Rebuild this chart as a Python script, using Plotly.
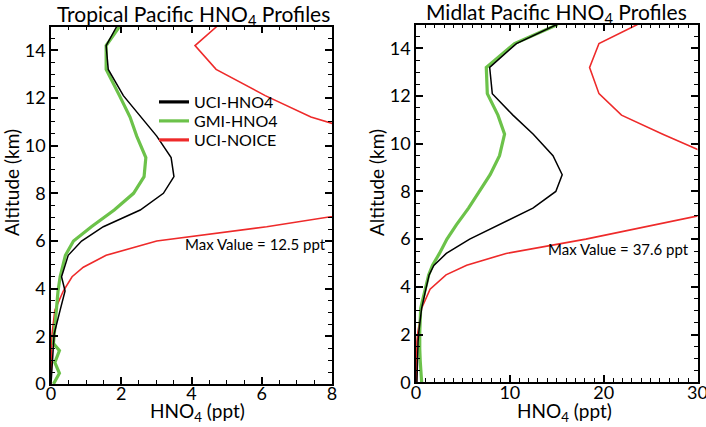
"""Tropical vs midlatitude Pacific HNO4 vertical profiles."""

import plotly.graph_objects as go

# Altitude levels (km) shared by all profiles
altitude = [0, 0.45, 0.9, 1.4, 1.7, 2.1, 3.1, 3.9, 4.5, 4.9, 5.4, 6.0,
            6.6, 7.3, 8.0, 8.7, 9.5, 10.4, 11.2, 12.1, 13.2, 14.2, 15.0]

# Tropical Pacific (ppt)
trop_uci = [0.0, 0.02, 0.03, 0.05, 0.06, 0.09, 0.26, 0.40, 0.30, 0.38, 0.49, 0.87,
            1.49, 2.54, 3.20, 3.50, 3.42, 3.01, 2.55, 2.06, 1.63, 1.57, 1.87]
trop_gmi = [0.07, 0.24, 0.11, 0.24, 0.07, 0.09, 0.16, 0.20, 0.26, 0.32, 0.41, 0.64,
            1.15, 1.80, 2.35, 2.65, 2.70, 2.44, 2.25, 1.95, 1.57, 1.57, 1.95]
trop_noice = [0.0, 0.0, 0.01, 0.01, 0.02, 0.03, 0.11, 0.35, 0.60, 0.92, 1.57, 3.01,
              6.14, 9.2, 11.5, 12.5, 12.0, 9.2, 7.4, 6.1, 4.7, 4.1, 4.72]

# Midlatitude Pacific (ppt)
mid_uci = [0.1, 0.12, 0.15, 0.2, 0.22, 0.3, 0.6, 1.05, 1.4, 1.9, 3.23, 5.72,
           8.9, 12.46, 14.9, 15.58, 14.6, 12.5, 10.33, 8.13, 7.85, 10.7, 15.0]
mid_gmi = [0.6, 0.5, 0.45, 0.4, 0.4, 0.4, 0.5, 0.95, 1.35, 1.75, 2.5, 3.3,
           4.3, 5.6, 6.8, 7.9, 8.9, 9.44, 8.73, 7.6, 7.49, 10.5, 15.1]
mid_noice = [0.05, 0.05, 0.06, 0.08, 0.1, 0.2, 0.6, 1.5, 3.2, 5.4, 9.6, 18.1,
             25.6, 34.0, 36.0, 37.6, 31.5, 26.3, 21.9, 19.5, 18.5, 19.5, 23.6]

series_names = ["UCI-HNO4", "GMI-HNO4", "UCI-NOICE"]
max_values = [12.5, 37.6]

BLACK = "#000000"
GREEN = "#6cc24a"
RED = "#ee2a2a"
FONT = "Lato, Open Sans, sans-serif"
W, H = 706, 427


def px(x):
    return x / W


def py(y):
    return 1 - y / H


fig = go.Figure()

panels = [
    ("x", "y", trop_uci, trop_gmi, trop_noice),
    ("x2", "y2", mid_uci, mid_gmi, mid_noice),
]
for xa, ya, uci, gmi, noice in panels:
    fig.add_trace(go.Scatter(x=noice, y=altitude, mode="lines", xaxis=xa, yaxis=ya,
                             line=dict(color=RED, width=1.6), showlegend=False))
    fig.add_trace(go.Scatter(x=gmi, y=altitude, mode="lines", xaxis=xa, yaxis=ya,
                             line=dict(color=GREEN, width=3.2), showlegend=False))
    fig.add_trace(go.Scatter(x=uci, y=altitude, mode="lines", xaxis=xa, yaxis=ya,
                             line=dict(color=BLACK, width=1.5), showlegend=False))

# legend entries, one small legend each so the spacing can be tight
legend_ids = ["legend", "legend2", "legend3"]
for name, color, lid in zip(series_names, [BLACK, GREEN, RED], legend_ids):
    fig.add_trace(go.Scatter(x=[None], y=[None], mode="lines", name=name, legend=lid,
                             line=dict(color=color, width=3.2)))

legend_style = dict(x=px(154), xanchor="left", yanchor="middle",
                    bgcolor="rgba(0,0,0,0)", borderwidth=0,
                    font=dict(family=FONT, size=16, color="black"))

axis_common = dict(
    showline=True, linecolor="black", linewidth=1.5, mirror="ticks",
    ticks="inside", ticklen=7, tickwidth=1.5, tickcolor="black",
    showgrid=False, zeroline=False, automargin=False, ticklabeloverflow="allow",
    tickfont=dict(family=FONT, size=18, color="black"),
)
minor_y = dict(dtick=0.5, ticks="inside", ticklen=4, tickwidth=1.2, tickcolor="black")

fig.update_layout(
    width=W, height=H,
    margin=dict(l=0, r=0, t=0, b=0, autoexpand=False),
    paper_bgcolor="white", plot_bgcolor="white",
    font=dict(family=FONT, color="black"),
    xaxis=dict(axis_common, domain=[px(51), px(332)], range=[0, 8], dtick=2, anchor="y",
               ticklabelstandoff=-7,
               minor=dict(dtick=0.5, ticks="inside", ticklen=4, tickwidth=1.2, tickcolor="black")),
    yaxis=dict(axis_common, domain=[py(384), py(26.5)], range=[0, 15], dtick=2, anchor="x",
               minor=minor_y),
    xaxis2=dict(axis_common, domain=[px(416), px(697.5)], range=[0, 30], dtick=10, anchor="y2",
                ticklabelstandoff=-7,
                minor=dict(dtick=1, ticks="inside", ticklen=4, tickwidth=1.2, tickcolor="black")),
    yaxis2=dict(axis_common, domain=[py(382.2), py(24.5)], range=[0, 15], dtick=2, anchor="x2",
                minor=minor_y),
    legend=dict(legend_style, y=py(102)),
    legend2=dict(legend_style, y=py(121)),
    legend3=dict(legend_style, y=py(140)),
    showlegend=True,
)

title_font = dict(family=FONT, size=21, color="black")
label_font = dict(family=FONT, size=19, color="black")

# panel titles
fig.add_annotation(text="Tropical Pacific HNO<sub>4</sub> Profiles", xref="paper", yref="paper",
                   x=px(193), y=py(15), showarrow=False, xanchor="center", yanchor="middle",
                   font=title_font)
fig.add_annotation(text="Midlat Pacific HNO<sub>4</sub> Profiles", xref="paper", yref="paper",
                   x=px(556), y=py(13), showarrow=False, xanchor="center", yanchor="middle",
                   font=title_font)

# axis titles
for xc in [197.5, 564]:
    fig.add_annotation(text="HNO<sub>4</sub> (ppt)", xref="paper", yref="paper",
                       x=px(xc), y=py(412), showarrow=False, xanchor="center", yanchor="middle",
                       font=label_font)
for xc in [11, 376]:
    fig.add_annotation(text="Altitude (km)", xref="paper", yref="paper", textangle=-90,
                       x=px(xc), y=py(183), showarrow=False, xanchor="center", yanchor="middle",
                       font=label_font)

# max value notes
fig.add_annotation(text=f"Max Value = {max_values[0]} ppt", xref="x", yref="y",
                   x=5.81, y=5.87, showarrow=False,
                   font=dict(family=FONT, size=15, color="black"))
fig.add_annotation(text=f"Max Value = {max_values[1]} ppt", xref="x2", yref="y2",
                   x=21.6, y=5.58, showarrow=False,
                   font=dict(family=FONT, size=15, color="black"))

# the page's default body margin would push the figure off the 706x427 window
fig.write_html("out.html", config={"displayModeBar": False},
               post_script="document.body.style.margin = '0';")
